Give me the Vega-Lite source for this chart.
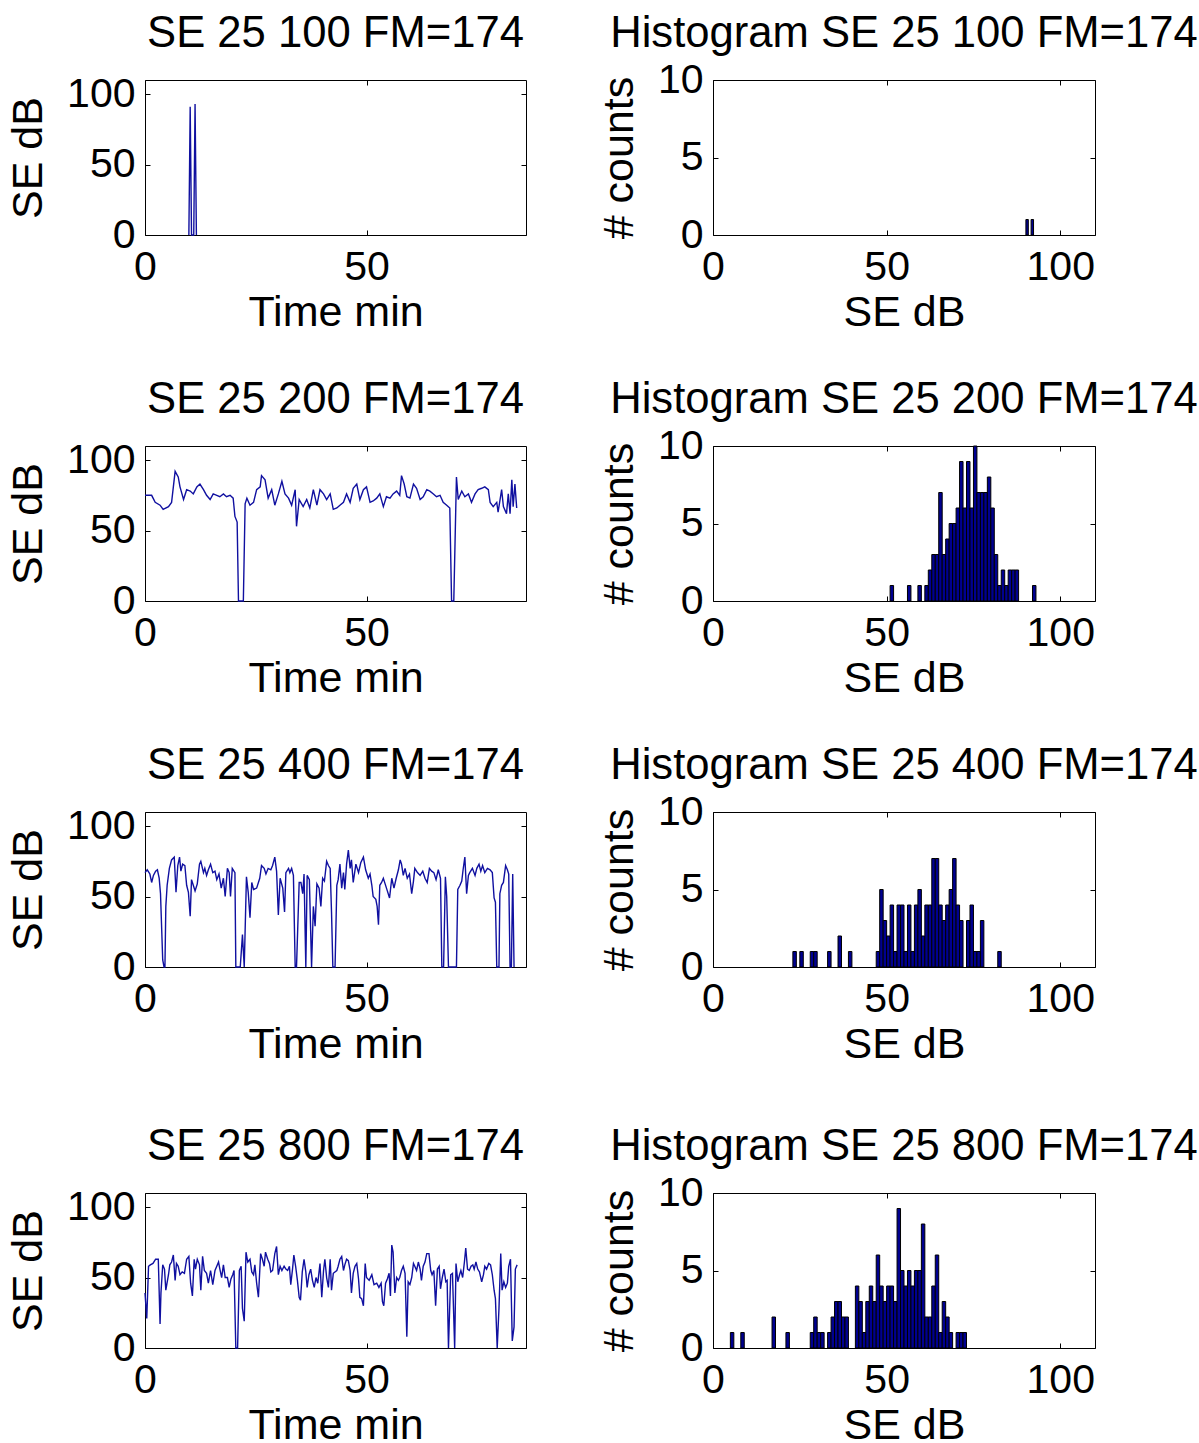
{
"$schema": "https://vega.github.io/schema/vega-lite/v6.json",
"padding": {"left": 7, "top": 12, "right": 0, "bottom": 0},
"config": {
  "font": "Liberation Sans",
  "view": {"stroke": null},
  "axis": {"domainColor": "black", "domainWidth": 1, "tickColor": "black", "tickWidth": 1, "tickSize": -5, "labelFontSize": 41, "labelColor": "black", "titleFontSize": 43, "titleFontWeight": "normal", "titleColor": "black", "grid": false, "labelFlush": false, "labelOverlap": false, "zindex": 1},
  "axisBottom": {"labelPadding": 17, "titlePadding": 4},
  "axisLeft": {"labelPadding": 15, "titlePadding": 16},
  "title": {"fontSize": 43.6, "fontWeight": "normal", "color": "black", "offset": 16}
},
"datasets": {
  "s100": [{"t":9.9,"v":0},{"t":10.2,"v":91},{"t":10.5,"v":0},{"t":11.0,"v":0},{"t":11.3,"v":93},{"t":11.6,"v":0}],
  "s200": [{"t":0,"v":75},{"t":1.5,"v":75},{"t":2.3,"v":70},{"t":3.4,"v":68},{"t":4.1,"v":65},{"t":5.3,"v":67},{"t":6,"v":70},{"t":6.8,"v":92},{"t":7.5,"v":88},{"t":7.9,"v":81},{"t":8.7,"v":72},{"t":9.4,"v":79},{"t":10.2,"v":78},{"t":10.9,"v":76},{"t":11.7,"v":81},{"t":12.4,"v":83},{"t":13.2,"v":79},{"t":13.9,"v":75},{"t":14.7,"v":72},{"t":15.4,"v":76},{"t":16.2,"v":75},{"t":16.9,"v":74},{"t":17.7,"v":76},{"t":18.4,"v":74},{"t":19.2,"v":75},{"t":19.9,"v":73},{"t":20.3,"v":60},{"t":20.8,"v":56},{"t":21.1,"v":0},{"t":21.7,"v":0},{"t":22.2,"v":0},{"t":22.6,"v":69},{"t":23,"v":73},{"t":23.7,"v":68},{"t":24.5,"v":70},{"t":25.2,"v":79},{"t":26,"v":81},{"t":26.3,"v":89},{"t":27.1,"v":86},{"t":27.8,"v":73},{"t":28.6,"v":79},{"t":29.3,"v":68},{"t":30.1,"v":76},{"t":30.9,"v":85},{"t":31.6,"v":76},{"t":32.4,"v":73},{"t":33.1,"v":68},{"t":33.9,"v":79},{"t":34.2,"v":53},{"t":34.8,"v":72},{"t":35.7,"v":67},{"t":36.5,"v":72},{"t":37.2,"v":66},{"t":38,"v":79},{"t":38.8,"v":68},{"t":39.5,"v":79},{"t":40.3,"v":76},{"t":41,"v":72},{"t":41.8,"v":76},{"t":42.5,"v":65},{"t":43.3,"v":66},{"t":44,"v":68},{"t":44.8,"v":70},{"t":45.5,"v":76},{"t":46.3,"v":70},{"t":47,"v":80},{"t":47.8,"v":83},{"t":48.5,"v":72},{"t":49.3,"v":79},{"t":50,"v":81},{"t":50.8,"v":70},{"t":51.5,"v":71},{"t":52.3,"v":73},{"t":53,"v":76},{"t":53.8,"v":67},{"t":54.5,"v":74},{"t":55.3,"v":73},{"t":56,"v":76},{"t":56.8,"v":78},{"t":57.5,"v":75},{"t":57.9,"v":89},{"t":58.5,"v":83},{"t":59.1,"v":74},{"t":59.8,"v":73},{"t":60.6,"v":83},{"t":61.3,"v":80},{"t":62.1,"v":72},{"t":62.8,"v":74},{"t":63.6,"v":79},{"t":64.3,"v":78},{"t":65.1,"v":76},{"t":65.8,"v":74},{"t":66.6,"v":75},{"t":67.3,"v":70},{"t":68.1,"v":68},{"t":68.8,"v":66},{"t":69.2,"v":0},{"t":69.7,"v":0},{"t":70.3,"v":88},{"t":70.7,"v":72},{"t":71.5,"v":78},{"t":72.2,"v":74},{"t":73,"v":76},{"t":73.7,"v":70},{"t":74.5,"v":76},{"t":75.2,"v":79},{"t":76,"v":80},{"t":76.7,"v":81},{"t":77.5,"v":79},{"t":77.9,"v":70},{"t":78.6,"v":67},{"t":79.4,"v":70},{"t":79.7,"v":63},{"t":80.5,"v":79},{"t":80.9,"v":67},{"t":81.6,"v":62},{"t":82,"v":76},{"t":82.4,"v":62},{"t":82.8,"v":86},{"t":83.1,"v":67},{"t":83.5,"v":83},{"t":83.9,"v":66}],
  "s400": [{"t":0,"v":67},{"t":0.5,"v":69},{"t":1.1,"v":66},{"t":1.5,"v":60},{"t":1.9,"v":65},{"t":2.4,"v":68},{"t":2.8,"v":69},{"t":3.2,"v":63},{"t":3.5,"v":52},{"t":4,"v":5},{"t":4.3,"v":0},{"t":4.5,"v":0},{"t":4.7,"v":43},{"t":5,"v":58},{"t":5.5,"v":70},{"t":6,"v":76},{"t":6.6,"v":78},{"t":7,"v":53},{"t":7.4,"v":72},{"t":7.8,"v":78},{"t":8.1,"v":68},{"t":8.5,"v":73},{"t":9,"v":72},{"t":9.4,"v":58},{"t":9.8,"v":53},{"t":10.2,"v":36},{"t":10.5,"v":62},{"t":10.9,"v":58},{"t":11.3,"v":54},{"t":11.8,"v":59},{"t":12.3,"v":73},{"t":12.6,"v":75},{"t":13.2,"v":67},{"t":13.5,"v":70},{"t":13.9,"v":65},{"t":14.3,"v":69},{"t":14.8,"v":73},{"t":15.3,"v":67},{"t":15.8,"v":68},{"t":16.2,"v":62},{"t":16.7,"v":66},{"t":17.2,"v":56},{"t":17.7,"v":63},{"t":18.1,"v":50},{"t":18.6,"v":70},{"t":19,"v":67},{"t":19.3,"v":50},{"t":19.7,"v":70},{"t":20.3,"v":67},{"t":20.5,"v":0},{"t":21,"v":0},{"t":21.5,"v":0},{"t":22,"v":23},{"t":22.4,"v":0},{"t":22.9,"v":64},{"t":23.3,"v":53},{"t":23.7,"v":35},{"t":24.1,"v":60},{"t":24.5,"v":55},{"t":25.2,"v":56},{"t":25.6,"v":60},{"t":25.9,"v":63},{"t":26.3,"v":72},{"t":26.9,"v":70},{"t":27.3,"v":66},{"t":27.8,"v":70},{"t":28.4,"v":69},{"t":28.8,"v":72},{"t":29.3,"v":78},{"t":29.7,"v":68},{"t":30.1,"v":37},{"t":30.5,"v":63},{"t":31.1,"v":56},{"t":31.5,"v":39},{"t":31.8,"v":67},{"t":32.4,"v":70},{"t":32.7,"v":67},{"t":33.1,"v":70},{"t":33.5,"v":65},{"t":33.9,"v":0},{"t":34.2,"v":0},{"t":34.8,"v":60},{"t":35.2,"v":60},{"t":35.6,"v":52},{"t":35.9,"v":66},{"t":36.3,"v":0},{"t":36.6,"v":65},{"t":37.1,"v":62},{"t":37.6,"v":0},{"t":38,"v":43},{"t":38.4,"v":29},{"t":38.8,"v":59},{"t":39.3,"v":56},{"t":39.7,"v":43},{"t":40.1,"v":63},{"t":40.5,"v":61},{"t":41,"v":75},{"t":41.4,"v":72},{"t":41.8,"v":70},{"t":42.1,"v":39},{"t":42.4,"v":0},{"t":42.9,"v":0},{"t":43.3,"v":58},{"t":43.6,"v":62},{"t":44,"v":73},{"t":44.4,"v":56},{"t":44.8,"v":67},{"t":45.1,"v":55},{"t":45.5,"v":73},{"t":45.9,"v":83},{"t":46.3,"v":70},{"t":46.6,"v":76},{"t":47,"v":60},{"t":47.6,"v":73},{"t":48.2,"v":67},{"t":48.7,"v":74},{"t":49.3,"v":78},{"t":49.8,"v":69},{"t":50.4,"v":63},{"t":50.8,"v":66},{"t":51.2,"v":58},{"t":51.5,"v":50},{"t":52.1,"v":48},{"t":52.4,"v":43},{"t":52.7,"v":30},{"t":53,"v":58},{"t":53.4,"v":60},{"t":53.8,"v":63},{"t":54.2,"v":59},{"t":54.7,"v":54},{"t":55.2,"v":49},{"t":55.7,"v":63},{"t":56.2,"v":56},{"t":56.7,"v":63},{"t":57.2,"v":69},{"t":57.6,"v":76},{"t":57.9,"v":73},{"t":58.3,"v":65},{"t":58.7,"v":70},{"t":59.2,"v":63},{"t":59.7,"v":66},{"t":60.2,"v":52},{"t":60.6,"v":61},{"t":60.9,"v":70},{"t":61.5,"v":67},{"t":62.1,"v":65},{"t":62.7,"v":68},{"t":63.2,"v":63},{"t":63.7,"v":60},{"t":64.2,"v":70},{"t":64.7,"v":68},{"t":65.2,"v":67},{"t":65.7,"v":62},{"t":66.2,"v":69},{"t":66.7,"v":63},{"t":67,"v":0},{"t":67.4,"v":0},{"t":67.8,"v":64},{"t":68.1,"v":50},{"t":68.5,"v":0},{"t":69,"v":0},{"t":69.4,"v":0},{"t":69.9,"v":0},{"t":70.3,"v":0},{"t":70.6,"v":55},{"t":71.1,"v":58},{"t":71.5,"v":61},{"t":71.8,"v":69},{"t":72.2,"v":78},{"t":72.6,"v":52},{"t":73,"v":65},{"t":73.3,"v":67},{"t":73.9,"v":70},{"t":74.5,"v":65},{"t":74.9,"v":70},{"t":75.4,"v":73},{"t":75.8,"v":68},{"t":76.2,"v":72},{"t":76.7,"v":67},{"t":77.3,"v":70},{"t":77.9,"v":69},{"t":78.4,"v":67},{"t":78.8,"v":49},{"t":79.1,"v":46},{"t":79.4,"v":0},{"t":79.9,"v":0},{"t":80.1,"v":52},{"t":80.5,"v":58},{"t":80.9,"v":60},{"t":81.4,"v":72},{"t":81.8,"v":69},{"t":82.1,"v":66},{"t":82.4,"v":0},{"t":82.7,"v":0},{"t":83,"v":66},{"t":83.3,"v":0}],
  "s800": [{"t":0,"v":39},{"t":0.4,"v":21},{"t":0.8,"v":58},{"t":1.2,"v":59},{"t":1.8,"v":60},{"t":2.4,"v":63},{"t":3,"v":63},{"t":3.4,"v":17},{"t":3.6,"v":39},{"t":4,"v":59},{"t":4.4,"v":56},{"t":4.7,"v":41},{"t":5.3,"v":52},{"t":5.6,"v":59},{"t":6,"v":61},{"t":6.4,"v":66},{"t":6.8,"v":48},{"t":7.1,"v":60},{"t":7.5,"v":58},{"t":7.9,"v":52},{"t":8.4,"v":54},{"t":8.9,"v":53},{"t":9.4,"v":63},{"t":9.9,"v":65},{"t":10.3,"v":46},{"t":10.7,"v":37},{"t":11.1,"v":63},{"t":11.4,"v":56},{"t":11.8,"v":63},{"t":12.3,"v":59},{"t":12.6,"v":41},{"t":13,"v":65},{"t":13.4,"v":55},{"t":13.9,"v":53},{"t":14.3,"v":46},{"t":14.8,"v":55},{"t":15.3,"v":45},{"t":15.8,"v":55},{"t":16.2,"v":58},{"t":16.6,"v":61},{"t":16.9,"v":56},{"t":17.3,"v":50},{"t":17.7,"v":59},{"t":18.1,"v":50},{"t":18.6,"v":50},{"t":19,"v":43},{"t":19.4,"v":49},{"t":19.8,"v":52},{"t":20.1,"v":55},{"t":20.5,"v":0},{"t":20.9,"v":0},{"t":21.3,"v":55},{"t":21.7,"v":58},{"t":22,"v":28},{"t":22.4,"v":19},{"t":22.8,"v":68},{"t":23.2,"v":61},{"t":23.7,"v":63},{"t":24.1,"v":54},{"t":24.5,"v":52},{"t":24.8,"v":59},{"t":25.2,"v":46},{"t":25.6,"v":36},{"t":26.1,"v":67},{"t":26.5,"v":63},{"t":26.9,"v":58},{"t":27.2,"v":68},{"t":27.7,"v":63},{"t":28.1,"v":60},{"t":28.4,"v":54},{"t":28.8,"v":55},{"t":29.3,"v":67},{"t":29.7,"v":72},{"t":30.1,"v":52},{"t":30.5,"v":58},{"t":30.9,"v":55},{"t":31.4,"v":58},{"t":31.8,"v":56},{"t":32.2,"v":55},{"t":32.6,"v":58},{"t":32.9,"v":45},{"t":33.3,"v":56},{"t":33.6,"v":66},{"t":34,"v":58},{"t":34.4,"v":48},{"t":34.8,"v":36},{"t":35.1,"v":34},{"t":35.5,"v":54},{"t":35.9,"v":63},{"t":36.3,"v":54},{"t":36.6,"v":43},{"t":37,"v":52},{"t":37.4,"v":56},{"t":37.8,"v":48},{"t":38.2,"v":43},{"t":38.6,"v":50},{"t":39,"v":46},{"t":39.5,"v":60},{"t":39.9,"v":36},{"t":40.3,"v":55},{"t":40.6,"v":63},{"t":41,"v":50},{"t":41.4,"v":43},{"t":41.8,"v":63},{"t":42.1,"v":41},{"t":42.5,"v":53},{"t":43.3,"v":55},{"t":43.6,"v":58},{"t":44,"v":63},{"t":44.4,"v":65},{"t":44.8,"v":55},{"t":45.1,"v":59},{"t":45.5,"v":63},{"t":45.9,"v":62},{"t":46.3,"v":55},{"t":46.6,"v":39},{"t":47,"v":53},{"t":47.4,"v":58},{"t":47.8,"v":60},{"t":48.2,"v":49},{"t":48.5,"v":36},{"t":48.9,"v":35},{"t":49.3,"v":30},{"t":49.7,"v":60},{"t":50,"v":50},{"t":50.6,"v":48},{"t":51.2,"v":52},{"t":51.7,"v":45},{"t":52.3,"v":46},{"t":52.8,"v":43},{"t":53.3,"v":46},{"t":53.6,"v":33},{"t":53.9,"v":30},{"t":54.3,"v":46},{"t":54.7,"v":49},{"t":55.1,"v":53},{"t":55.4,"v":37},{"t":55.7,"v":73},{"t":56,"v":68},{"t":56.4,"v":39},{"t":56.8,"v":50},{"t":57.2,"v":48},{"t":57.5,"v":50},{"t":57.9,"v":55},{"t":58.3,"v":58},{"t":58.7,"v":53},{"t":59.1,"v":8},{"t":59.4,"v":47},{"t":59.8,"v":45},{"t":60.2,"v":50},{"t":60.6,"v":60},{"t":60.9,"v":58},{"t":61.3,"v":55},{"t":61.7,"v":61},{"t":62.1,"v":56},{"t":62.4,"v":48},{"t":62.8,"v":58},{"t":63.2,"v":61},{"t":63.6,"v":67},{"t":64.1,"v":67},{"t":64.5,"v":55},{"t":64.8,"v":52},{"t":65.2,"v":55},{"t":65.6,"v":30},{"t":66,"v":56},{"t":66.4,"v":58},{"t":66.7,"v":42},{"t":67.1,"v":50},{"t":67.5,"v":56},{"t":67.9,"v":47},{"t":68.2,"v":48},{"t":68.5,"v":0},{"t":69,"v":52},{"t":69.4,"v":53},{"t":69.9,"v":0},{"t":70.2,"v":60},{"t":70.6,"v":47},{"t":71,"v":52},{"t":71.3,"v":55},{"t":71.7,"v":50},{"t":72.1,"v":61},{"t":72.4,"v":71},{"t":72.8,"v":56},{"t":73.2,"v":55},{"t":73.6,"v":58},{"t":74,"v":59},{"t":74.3,"v":56},{"t":74.7,"v":61},{"t":75.1,"v":56},{"t":75.5,"v":54},{"t":76,"v":47},{"t":76.4,"v":52},{"t":76.7,"v":58},{"t":77.1,"v":56},{"t":77.6,"v":60},{"t":78,"v":59},{"t":78.4,"v":52},{"t":78.8,"v":41},{"t":79.1,"v":35},{"t":79.5,"v":0},{"t":79.9,"v":28},{"t":80.3,"v":67},{"t":80.6,"v":41},{"t":81,"v":47},{"t":81.4,"v":43},{"t":81.8,"v":46},{"t":82.1,"v":58},{"t":82.5,"v":63},{"t":82.9,"v":5},{"t":83.3,"v":15},{"t":83.6,"v":56},{"t":84,"v":59}],
  "h100": [{"a":90.1,"b":90.8,"c":1},{"a":91.6,"b":92.3,"c":1}],
  "h200": [{"a":51,"b":52,"c":1},{"a":56,"b":57,"c":1},{"a":59,"b":60,"c":1},{"a":61,"b":62,"c":1},{"a":62,"b":63,"c":2},{"a":63,"b":64,"c":3},{"a":64,"b":65,"c":3},{"a":65,"b":66,"c":7},{"a":66,"b":67,"c":3},{"a":67,"b":68,"c":4},{"a":68,"b":69,"c":5},{"a":69,"b":70,"c":5},{"a":70,"b":71,"c":6},{"a":71,"b":72,"c":9},{"a":72,"b":73,"c":6},{"a":73,"b":74,"c":9},{"a":74,"b":75,"c":6},{"a":75,"b":76,"c":10},{"a":76,"b":77,"c":7},{"a":77,"b":78,"c":7},{"a":78,"b":79,"c":7},{"a":79,"b":80,"c":8},{"a":80,"b":81,"c":6},{"a":81,"b":82,"c":3},{"a":82,"b":83,"c":1},{"a":83,"b":84,"c":2},{"a":84,"b":85,"c":1},{"a":85,"b":86,"c":2},{"a":86,"b":87,"c":2},{"a":87,"b":88,"c":2},{"a":92,"b":93,"c":1}],
  "h400": [{"a":23,"b":24,"c":1},{"a":25,"b":26,"c":1},{"a":28,"b":29,"c":1},{"a":29,"b":30,"c":1},{"a":33,"b":34,"c":1},{"a":36,"b":37,"c":2},{"a":39,"b":40,"c":1},{"a":47,"b":48,"c":1},{"a":48,"b":49,"c":5},{"a":49,"b":50,"c":3},{"a":50,"b":51,"c":2},{"a":51,"b":52,"c":4},{"a":52,"b":53,"c":1},{"a":53,"b":54,"c":4},{"a":54,"b":55,"c":4},{"a":55,"b":56,"c":1},{"a":56,"b":57,"c":4},{"a":57,"b":58,"c":1},{"a":58,"b":59,"c":4},{"a":59,"b":60,"c":5},{"a":60,"b":61,"c":2},{"a":61,"b":62,"c":4},{"a":62,"b":63,"c":4},{"a":63,"b":64,"c":7},{"a":64,"b":65,"c":7},{"a":65,"b":66,"c":4},{"a":66,"b":67,"c":3},{"a":67,"b":68,"c":4},{"a":68,"b":69,"c":5},{"a":69,"b":70,"c":7},{"a":70,"b":71,"c":4},{"a":71,"b":72,"c":3},{"a":73,"b":74,"c":3},{"a":74,"b":75,"c":4},{"a":75,"b":76,"c":1},{"a":76,"b":77,"c":1},{"a":77,"b":78,"c":3},{"a":82,"b":83,"c":1}],
  "h800": [{"a":5,"b":6,"c":1},{"a":8,"b":9,"c":1},{"a":17,"b":18,"c":2},{"a":21,"b":22,"c":1},{"a":28,"b":29,"c":1},{"a":29,"b":30,"c":2},{"a":30,"b":31,"c":1},{"a":31,"b":32,"c":1},{"a":33,"b":34,"c":1},{"a":34,"b":35,"c":2},{"a":35,"b":36,"c":3},{"a":36,"b":37,"c":3},{"a":37,"b":38,"c":2},{"a":38,"b":39,"c":2},{"a":41,"b":42,"c":4},{"a":42,"b":43,"c":3},{"a":43,"b":44,"c":1},{"a":44,"b":45,"c":3},{"a":45,"b":46,"c":4},{"a":46,"b":47,"c":3},{"a":47,"b":48,"c":6},{"a":48,"b":49,"c":4},{"a":49,"b":50,"c":3},{"a":50,"b":51,"c":4},{"a":51,"b":52,"c":4},{"a":52,"b":53,"c":3},{"a":53,"b":54,"c":9},{"a":54,"b":55,"c":5},{"a":55,"b":56,"c":4},{"a":56,"b":57,"c":5},{"a":57,"b":58,"c":4},{"a":58,"b":59,"c":5},{"a":59,"b":60,"c":5},{"a":60,"b":61,"c":8},{"a":61,"b":62,"c":2},{"a":62,"b":63,"c":2},{"a":63,"b":64,"c":4},{"a":64,"b":65,"c":6},{"a":65,"b":66,"c":1},{"a":66,"b":67,"c":3},{"a":67,"b":68,"c":2},{"a":68,"b":69,"c":1},{"a":70,"b":71,"c":1},{"a":71,"b":72,"c":1},{"a":72,"b":73,"c":1}]
},
"bounds": "flush",
"spacing": 1113,
"vconcat": [
 {"bounds": "flush", "spacing": 366, "vconcat": [
  {"bounds": "flush", "spacing": 187, "hconcat": [
   {"title": "SE 25 100 FM=174", "width": 381, "height": 155, "data": {"name": "s100"},
    "layer": [
     {"mark": {"type": "line", "color": "#1010a0", "strokeWidth": 1.4},
      "encoding": {"x": {"field": "t", "type": "quantitative", "scale": {"domain": [0, 86], "nice": false, "zero": false}, "axis": {"orient": "bottom", "values": [0, 50], "title": "Time min"}},
                   "y": {"field": "v", "type": "quantitative", "scale": {"domain": [0, 110], "nice": false}, "axis": {"orient": "left", "values": [0, 50, 100], "title": "SE dB"}}}},
     {"mark": {"type": "point", "opacity": 0},
      "encoding": {"x": {"field": "t", "type": "quantitative", "axis": {"orient": "top", "values": [0, 50], "labels": false, "title": null}},
                   "y": {"field": "v", "type": "quantitative", "axis": {"orient": "right", "values": [0, 50, 100], "labels": false, "title": null}}}}
    ]},
   {"title": {"text": "Histogram SE 25 100 FM=174", "offset": 2}, "width": 382, "height": 155, "data": {"name": "h100"},
    "layer": [
     {"mark": {"type": "rect", "fill": "#000090", "stroke": "black", "strokeWidth": 1},
      "encoding": {"x": {"field": "a", "type": "quantitative", "scale": {"domain": [0, 110], "nice": false, "zero": false}, "axis": {"orient": "bottom", "values": [0, 50, 100], "title": "SE dB"}},
                   "x2": {"field": "b"},
                   "y": {"field": "c", "type": "quantitative", "scale": {"domain": [0, 10], "nice": false}, "axis": {"orient": "left", "values": [0, 5, 10], "title": "# counts"}},
                   "y2": {"datum": 0}}},
     {"mark": {"type": "point", "opacity": 0},
      "encoding": {"x": {"field": "a", "type": "quantitative", "axis": {"orient": "top", "values": [0, 50, 100], "labels": false, "title": null}},
                   "y": {"field": "c", "type": "quantitative", "axis": {"orient": "right", "values": [0, 5, 10], "labels": false, "title": null}}}}
    ]}
  ]},
  {"bounds": "flush", "spacing": 187, "hconcat": [
   {"title": "SE 25 200 FM=174", "width": 381, "height": 155, "data": {"name": "s200"},
    "layer": [
     {"mark": {"type": "line", "color": "#1010a0", "strokeWidth": 1.4},
      "encoding": {"x": {"field": "t", "type": "quantitative", "scale": {"domain": [0, 86], "nice": false, "zero": false}, "axis": {"orient": "bottom", "values": [0, 50], "title": "Time min"}},
                   "y": {"field": "v", "type": "quantitative", "scale": {"domain": [0, 110], "nice": false}, "axis": {"orient": "left", "values": [0, 50, 100], "title": "SE dB"}}}},
     {"mark": {"type": "point", "opacity": 0},
      "encoding": {"x": {"field": "t", "type": "quantitative", "axis": {"orient": "top", "values": [0, 50], "labels": false, "title": null}},
                   "y": {"field": "v", "type": "quantitative", "axis": {"orient": "right", "values": [0, 50, 100], "labels": false, "title": null}}}}
    ]},
   {"title": {"text": "Histogram SE 25 200 FM=174", "offset": 2}, "width": 382, "height": 155, "data": {"name": "h200"},
    "layer": [
     {"mark": {"type": "rect", "fill": "#000090", "stroke": "black", "strokeWidth": 1},
      "encoding": {"x": {"field": "a", "type": "quantitative", "scale": {"domain": [0, 110], "nice": false, "zero": false}, "axis": {"orient": "bottom", "values": [0, 50, 100], "title": "SE dB"}},
                   "x2": {"field": "b"},
                   "y": {"field": "c", "type": "quantitative", "scale": {"domain": [0, 10], "nice": false}, "axis": {"orient": "left", "values": [0, 5, 10], "title": "# counts"}},
                   "y2": {"datum": 0}}},
     {"mark": {"type": "point", "opacity": 0},
      "encoding": {"x": {"field": "a", "type": "quantitative", "axis": {"orient": "top", "values": [0, 50, 100], "labels": false, "title": null}},
                   "y": {"field": "c", "type": "quantitative", "axis": {"orient": "right", "values": [0, 5, 10], "labels": false, "title": null}}}}
    ]}
  ]},
  {"bounds": "flush", "spacing": 187, "hconcat": [
   {"title": "SE 25 400 FM=174", "width": 381, "height": 155, "data": {"name": "s400"},
    "layer": [
     {"mark": {"type": "line", "color": "#1010a0", "strokeWidth": 1.4},
      "encoding": {"x": {"field": "t", "type": "quantitative", "scale": {"domain": [0, 86], "nice": false, "zero": false}, "axis": {"orient": "bottom", "values": [0, 50], "title": "Time min"}},
                   "y": {"field": "v", "type": "quantitative", "scale": {"domain": [0, 110], "nice": false}, "axis": {"orient": "left", "values": [0, 50, 100], "title": "SE dB"}}}},
     {"mark": {"type": "point", "opacity": 0},
      "encoding": {"x": {"field": "t", "type": "quantitative", "axis": {"orient": "top", "values": [0, 50], "labels": false, "title": null}},
                   "y": {"field": "v", "type": "quantitative", "axis": {"orient": "right", "values": [0, 50, 100], "labels": false, "title": null}}}}
    ]},
   {"title": {"text": "Histogram SE 25 400 FM=174", "offset": 2}, "width": 382, "height": 155, "data": {"name": "h400"},
    "layer": [
     {"mark": {"type": "rect", "fill": "#000090", "stroke": "black", "strokeWidth": 1},
      "encoding": {"x": {"field": "a", "type": "quantitative", "scale": {"domain": [0, 110], "nice": false, "zero": false}, "axis": {"orient": "bottom", "values": [0, 50, 100], "title": "SE dB"}},
                   "x2": {"field": "b"},
                   "y": {"field": "c", "type": "quantitative", "scale": {"domain": [0, 10], "nice": false}, "axis": {"orient": "left", "values": [0, 5, 10], "title": "# counts"}},
                   "y2": {"datum": 0}}},
     {"mark": {"type": "point", "opacity": 0},
      "encoding": {"x": {"field": "a", "type": "quantitative", "axis": {"orient": "top", "values": [0, 50, 100], "labels": false, "title": null}},
                   "y": {"field": "c", "type": "quantitative", "axis": {"orient": "right", "values": [0, 5, 10], "labels": false, "title": null}}}}
    ]}
  ]}
 ]},
 {"bounds": "flush", "spacing": 187, "hconcat": [
  {"title": "SE 25 800 FM=174", "width": 381, "height": 155, "data": {"name": "s800"},
   "layer": [
    {"mark": {"type": "line", "color": "#1010a0", "strokeWidth": 1.4},
     "encoding": {"x": {"field": "t", "type": "quantitative", "scale": {"domain": [0, 86], "nice": false, "zero": false}, "axis": {"orient": "bottom", "values": [0, 50], "title": "Time min"}},
                  "y": {"field": "v", "type": "quantitative", "scale": {"domain": [0, 110], "nice": false}, "axis": {"orient": "left", "values": [0, 50, 100], "title": "SE dB"}}}},
    {"mark": {"type": "point", "opacity": 0},
     "encoding": {"x": {"field": "t", "type": "quantitative", "axis": {"orient": "top", "values": [0, 50], "labels": false, "title": null}},
                  "y": {"field": "v", "type": "quantitative", "axis": {"orient": "right", "values": [0, 50, 100], "labels": false, "title": null}}}}
   ]},
  {"title": {"text": "Histogram SE 25 800 FM=174", "offset": 2}, "width": 382, "height": 155, "data": {"name": "h800"},
   "layer": [
    {"mark": {"type": "rect", "fill": "#000090", "stroke": "black", "strokeWidth": 1},
     "encoding": {"x": {"field": "a", "type": "quantitative", "scale": {"domain": [0, 110], "nice": false, "zero": false}, "axis": {"orient": "bottom", "values": [0, 50, 100], "title": "SE dB"}},
                  "x2": {"field": "b"},
                  "y": {"field": "c", "type": "quantitative", "scale": {"domain": [0, 10], "nice": false}, "axis": {"orient": "left", "values": [0, 5, 10], "title": "# counts"}},
                  "y2": {"datum": 0}}},
    {"mark": {"type": "point", "opacity": 0},
     "encoding": {"x": {"field": "a", "type": "quantitative", "axis": {"orient": "top", "values": [0, 50, 100], "labels": false, "title": null}},
                  "y": {"field": "c", "type": "quantitative", "axis": {"orient": "right", "values": [0, 5, 10], "labels": false, "title": null}}}}
   ]}
 ]}
]
}
